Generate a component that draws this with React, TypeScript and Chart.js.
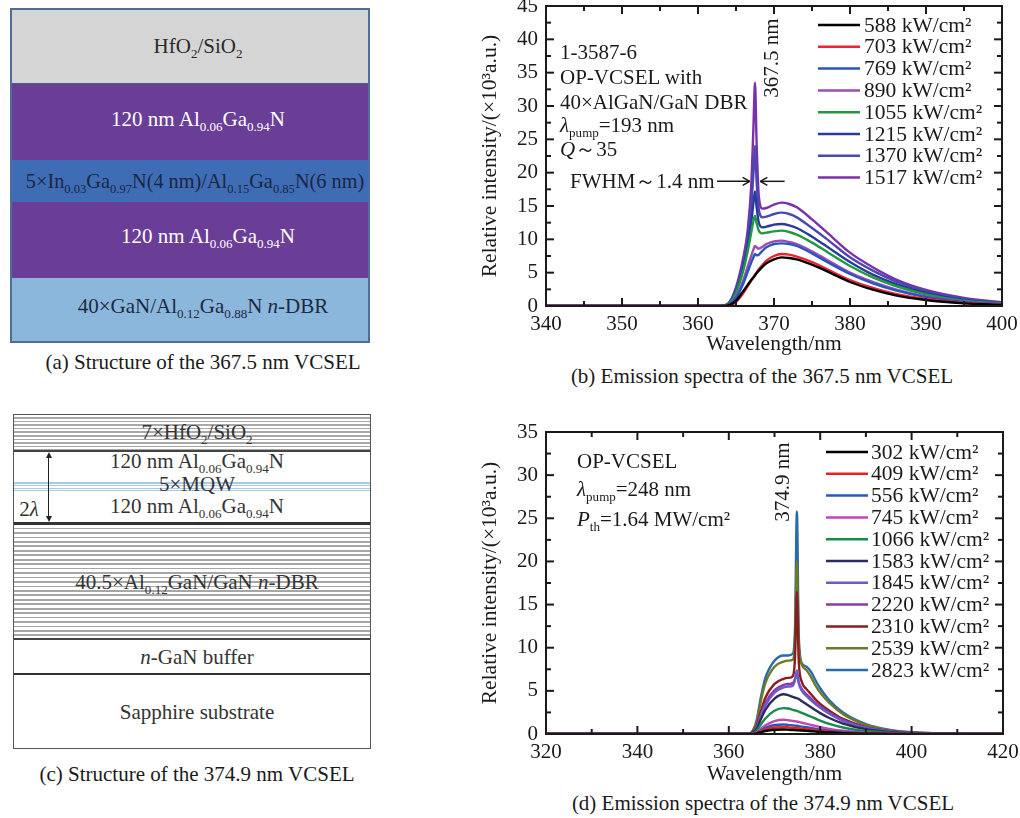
import React, { useEffect, useRef } from "react";
import { Chart, registerables } from "chart.js";
Chart.register(...registerables);

const FONT = '"Liberation Serif", "Times New Roman", serif';

// ---------- Panel (b) data ----------
const wlB = [340, 350, 360, 363, 364, 365, 366, 366.5, 367, 367.3, 367.5, 367.7, 368, 368.5, 369, 370, 371, 372, 373, 375, 377, 380, 383, 386, 390, 395, 400];
const i588 = [0, 0, 0, 0, 0.1, 0.8, 2.3, 3.1, 3.9, 4.3, 4.6, 4.9, 5.3, 5.9, 6.4, 7.0, 7.3, 7.2, 7.0, 6.2, 5.2, 3.6, 2.45, 1.6, 0.9, 0.4, 0.15];
const i703 = [0, 0, 0, 0, 0.05, 0.6, 2.0, 2.9, 3.8, 4.3, 4.7, 5.0, 5.5, 6.2, 6.8, 7.5, 7.8, 7.7, 7.4, 6.6, 5.5, 3.9, 2.7, 1.8, 1.05, 0.45, 0.2];
const i769 = [0, 0, 0, 0, 0.2, 1.2, 3.5, 5.0, 6.5, 7.3, 7.8, 7.6, 7.7, 8.3, 8.8, 9.3, 9.4, 9.3, 9.0, 7.9, 6.6, 4.8, 3.4, 2.35, 1.35, 0.6, 0.28];
const i890 = [0, 0, 0, 0, 0.2, 1.4, 4.0, 5.8, 7.5, 8.5, 9.0, 8.8, 8.6, 8.9, 9.3, 9.7, 9.8, 9.6, 9.3, 8.2, 6.9, 5.0, 3.6, 2.5, 1.45, 0.65, 0.3];
const i1055 = [0, 0, 0, 0, 0.3, 2.0, 5.5, 8.0, 11.0, 12.8, 13.5, 12.5, 11.3, 10.9, 11.0, 11.2, 11.3, 11.1, 10.7, 9.5, 8.1, 6.0, 4.3, 3.0, 1.75, 0.8, 0.35];
const i1215 = [0, 0, 0, 0, 0.3, 2.2, 6.0, 8.8, 12.5, 15.5, 17.2, 15.0, 12.5, 11.8, 11.9, 12.2, 12.3, 12.1, 11.7, 10.4, 8.9, 6.6, 4.7, 3.3, 1.95, 0.9, 0.4];
const i1370 = [0, 0, 0, 0, 0.4, 2.5, 6.8, 10.0, 15.0, 20.0, 24.0, 19.0, 14.5, 13.3, 13.4, 13.8, 14.0, 13.8, 13.3, 11.7, 10.0, 7.3, 5.3, 3.7, 2.2, 1.05, 0.5];
const i1517 = [0, 0, 0, 0, 0.4, 2.8, 7.5, 11.0, 18.0, 27.0, 33.5, 25.0, 16.5, 14.6, 14.7, 15.2, 15.5, 15.3, 14.8, 13.0, 11.0, 8.0, 5.8, 4.0, 2.4, 1.2, 0.55];
const labelsB = ["588 kW/cm²", "703 kW/cm²", "769 kW/cm²", "890 kW/cm²", "1055 kW/cm²", "1215 kW/cm²", "1370 kW/cm²", "1517 kW/cm²"];
const colorsB = ["#000000", "#ee2230", "#2a55bd", "#9c4cb4", "#1f9a40", "#283a9c", "#4b48b4", "#7b2fab"];
const seriesB = [i588, i703, i769, i890, i1055, i1215, i1370, i1517];

// ---------- Panel (d) data ----------
const wlD = [320, 340, 360, 364, 365, 366, 367, 368, 370, 372, 373, 374, 374.5, 374.9, 375.3, 376, 377, 378, 379, 380, 382, 385, 390, 395, 400, 410, 420];
const j302 = [0, 0, 0, 0, 0, 0.05, 0.2, 0.35, 0.5, 0.52, 0.5, 0.47, 0.45, 0.44, 0.43, 0.4, 0.36, 0.32, 0.28, 0.24, 0.17, 0.1, 0.04, 0.02, 0.01, 0, 0];
const j409 = [0, 0, 0, 0, 0, 0.08, 0.3, 0.5, 0.75, 0.8, 0.77, 0.72, 0.7, 0.68, 0.66, 0.62, 0.56, 0.49, 0.43, 0.37, 0.27, 0.16, 0.07, 0.03, 0.01, 0, 0];
const j556 = [0, 0, 0, 0, 0, 0.1, 0.4, 0.7, 1.05, 1.1, 1.06, 1.0, 0.97, 0.95, 0.92, 0.86, 0.78, 0.69, 0.6, 0.52, 0.38, 0.23, 0.1, 0.04, 0.02, 0, 0];
const j745 = [0, 0, 0, 0, 0.02, 0.15, 0.6, 1.0, 1.5, 1.65, 1.6, 1.52, 1.48, 1.45, 1.4, 1.3, 1.18, 1.05, 0.93, 0.8, 0.6, 0.37, 0.16, 0.07, 0.03, 0, 0];
const j1066 = [0, 0, 0, 0, 0.05, 0.3, 1.1, 1.8, 2.7, 3.0, 2.95, 2.8, 2.72, 2.68, 2.6, 2.45, 2.22, 2.0, 1.78, 1.56, 1.18, 0.75, 0.34, 0.15, 0.06, 0.01, 0];
const j1583 = [0, 0, 0, 0, 0.1, 0.5, 1.7, 2.8, 4.1, 4.6, 4.5, 4.3, 4.2, 4.15, 4.05, 3.8, 3.45, 3.1, 2.75, 2.42, 1.85, 1.2, 0.55, 0.24, 0.1, 0.02, 0];
const j1845 = [0, 0, 0, 0, 0.1, 0.6, 2.0, 3.3, 4.8, 5.4, 5.5, 5.6, 6.3, 7.4, 5.9, 5.0, 4.4, 3.9, 3.45, 3.05, 2.35, 1.5, 0.7, 0.3, 0.12, 0.02, 0];
const j2220 = [0, 0, 0, 0, 0.12, 0.65, 2.2, 3.6, 5.1, 5.7, 5.8, 5.9, 6.4, 7.0, 6.0, 5.2, 4.6, 4.1, 3.6, 3.2, 2.45, 1.6, 0.75, 0.32, 0.13, 0.02, 0];
const j2310 = [0, 0, 0, 0, 0.15, 0.8, 2.6, 4.2, 5.8, 6.4, 6.5, 6.7, 9.0, 16.5, 8.5, 6.0, 5.2, 4.6, 4.0, 3.5, 2.7, 1.75, 0.8, 0.35, 0.14, 0.02, 0];
const j2539 = [0, 0, 0, 0, 0.2, 1.2, 3.8, 5.9, 7.8, 8.4, 8.5, 8.6, 11.0, 20.0, 10.5, 8.0, 7.4, 6.6, 5.6, 4.8, 3.6, 2.3, 1.05, 0.45, 0.18, 0.03, 0];
const j2823 = [0, 0, 0, 0, 0.2, 1.4, 4.2, 6.5, 8.5, 9.1, 9.1, 9.3, 12.5, 25.8, 11.5, 8.2, 7.8, 7.2, 6.2, 5.3, 3.9, 2.5, 1.15, 0.5, 0.2, 0.03, 0];
const labelsD = ["302 kW/cm²", "409 kW/cm²", "556 kW/cm²", "745 kW/cm²", "1066 kW/cm²", "1583 kW/cm²", "1845 kW/cm²", "2220 kW/cm²", "2310 kW/cm²", "2539 kW/cm²", "2823 kW/cm²"];
const colorsD = ["#000000", "#e42222", "#2a58ba", "#c246b6", "#178a4c", "#2b2b62", "#6a5acb", "#8b3aab", "#8c1c1c", "#6c7a2a", "#2a6aa8"];
const seriesD = [j302, j409, j556, j745, j1066, j1583, j1845, j2220, j2310, j2539, j2823];

const AXIS_TITLE = "Relative intensity/(×10³a.u.)";

const framePlugin = {
  id: "frameTicks",
  afterDraw(chart: any, _a: any, opts: any) {
    const { ctx, chartArea: a } = chart;
    const x = chart.scales.x;
    const y = chart.scales.y;
    ctx.save();
    ctx.strokeStyle = "#1a1a1a";
    ctx.lineWidth = 2;
    ctx.strokeRect(a.left, a.top, a.right - a.left, a.bottom - a.top);
    const seg = (x1: number, y1: number, x2: number, y2: number) => {
      ctx.beginPath();
      ctx.moveTo(x1, y1);
      ctx.lineTo(x2, y2);
      ctx.stroke();
    };
    const isMajor = (v: number, min: number, step: number) => {
      const r = (v - min) / step;
      return Math.abs(r - Math.round(r)) < 1e-6;
    };
    for (let v = x.min; v <= x.max + 1e-9; v += opts.xMinor) {
      const px = x.getPixelForValue(v);
      const len = isMajor(v, x.min, opts.xMajor) ? 8 : 5;
      seg(px, a.bottom, px, a.bottom - len);
      seg(px, a.top, px, a.top + len);
    }
    for (let v = y.min; v <= y.max + 1e-9; v += opts.yMinor) {
      const py = y.getPixelForValue(v);
      const len = isMajor(v, y.min, opts.yMajor) ? 8 : 5;
      seg(a.left, py, a.left + len, py);
      seg(a.right, py, a.right - len, py);
    }
    if (opts.arrows) {
      for (const ar of opts.arrows) {
        const x1 = x.getPixelForValue(ar.from);
        const x2 = x.getPixelForValue(ar.to);
        const py = y.getPixelForValue(ar.y);
        ctx.lineWidth = 1.5;
        seg(x1, py, x2, py);
        const d = x2 > x1 ? -1 : 1;
        seg(x2, py, x2 + d * 7, py - 4);
        seg(x2, py, x2 + d * 7, py + 4);
      }
    }
    ctx.restore();
  },
};

const legendPlugin = {
  id: "inlineLegend",
  afterDraw(chart: any, _a: any, opts: any) {
    const { ctx } = chart;
    ctx.save();
    ctx.font = `21.5px ${FONT}`;
    ctx.textBaseline = "middle";
    chart.data.datasets.forEach((ds: any, i: number) => {
      const yy = opts.y0 + i * opts.dy;
      ctx.strokeStyle = ds.borderColor;
      ctx.lineWidth = 2.5;
      ctx.beginPath();
      ctx.moveTo(opts.x, yy);
      ctx.lineTo(opts.x + opts.len, yy);
      ctx.stroke();
      ctx.fillStyle = "#1a1a1a";
      ctx.fillText(ds.label, opts.x + opts.len + opts.gap, yy + 1);
    });
    ctx.restore();
  },
};

function makeChart(canvas: HTMLCanvasElement, cfg: any) {
  const datasets = cfg.series.map((vals: number[], i: number) => ({
    label: cfg.labels[i],
    data: cfg.wl.map((w: number, k: number) => ({ x: w, y: vals[k] })),
    borderColor: cfg.colors[i],
    backgroundColor: cfg.colors[i],
    borderWidth: 2.4,
    pointRadius: 0,
    tension: 0.4,
    cubicInterpolationMode: "monotone",
    fill: false,
  }));
  return new Chart(canvas, {
    type: "line",
    data: { datasets },
    plugins: [framePlugin, legendPlugin],
    options: {
      animation: false,
      responsive: false,
      maintainAspectRatio: false,
      devicePixelRatio: 1,
      layout: { padding: { left: 0, top: cfg.padTop, right: cfg.padRight, bottom: 0 } },
      plugins: {
        legend: { display: false },
        tooltip: { enabled: false },
        frameTicks: cfg.ticks,
        inlineLegend: cfg.legend,
      },
      scales: {
        x: {
          type: "linear",
          min: cfg.xMin,
          max: cfg.xMax,
          grid: { display: false, drawTicks: false },
          border: { display: false },
          ticks: { stepSize: cfg.xStep, padding: cfg.xTickPad, color: "#1a1a1a", font: { family: FONT, size: 21 }, maxRotation: 0 },
          title: { display: true, text: "Wavelength/nm", color: "#1a1a1a", font: { family: FONT, size: 21.5 }, padding: { top: 0, bottom: cfg.xTitlePad } },
          afterFit(s: any) {
            s.height = cfg.xHeight;
            s.paddingLeft = 0;
            s.paddingRight = 0;
          },
        },
        y: {
          min: 0,
          max: cfg.yMax,
          grid: { display: false, drawTicks: false },
          border: { display: false },
          ticks: { stepSize: 5, padding: cfg.yTickPad, color: "#1a1a1a", font: { family: FONT, size: 21 } },
          title: { display: true, text: AXIS_TITLE, color: "#1a1a1a", font: { family: FONT, size: 21.5 }, padding: { top: cfg.yTitlePad, bottom: 0 } },
          afterFit(s: any) {
            s.width = cfg.yWidth;
            s.paddingTop = 0;
            s.paddingBottom = 0;
          },
        },
      },
    },
  });
}

const Sub = ({ children }: any) => (
  <span style={{ fontSize: "0.62em", position: "relative", top: "0.38em", lineHeight: 0 }}>{children}</span>
);

const T = ({ x, y, children, align = "center", color = "#1a1a1a", size = 21, rotate = 0 }: any) => {
  const tx = align === "center" ? "-50%" : align === "right" ? "-100%" : "0";
  return (
    <div
      style={{
        position: "absolute",
        left: x,
        top: y,
        transform: `translate(${tx}, -50%)` + (rotate ? ` rotate(${rotate}deg)` : ""),
        whiteSpace: "nowrap",
        lineHeight: 1,
        fontSize: size,
        color,
        fontFamily: FONT,
      }}
    >
      {children}
    </div>
  );
};

const Layer = ({ top, height, bg, border }: any) => (
  <div style={{ position: "absolute", left: 0, right: 0, top, height, background: bg, borderBottom: border }} />
);

function PanelA() {
  return (
    <div style={{ position: "absolute", left: 10, top: 8, width: 360, height: 335, border: "2px solid #4d6e98", boxSizing: "border-box", overflow: "hidden" }}>
      <Layer top={0} height={73} bg="#d5d5d6" border="1px solid #4a5e86" />
      <Layer top={74} height={76} bg="#6a3d97" border="1px solid #3d3e86" />
      <Layer top={150} height={42} bg="#3f6db5" border="1px solid #3c4f8f" />
      <Layer top={192} height={76} bg="#6a3d97" border="1px solid #3d4e8c" />
      <Layer top={268} height={70} bg="#8cb7dd" />
    </div>
  );
}

function PanelC() {
  const dbrTop = "repeating-linear-gradient(to bottom, #ffffff 0px, #ffffff 2px, #a8a8a8 2px, #a8a8a8 3.6px)";
  const dbrBot = "repeating-linear-gradient(to bottom, #ffffff 0px, #ffffff 2.7px, #a6a6a6 2.7px, #a6a6a6 4.45px)";
  const mqw = "repeating-linear-gradient(to bottom, #ffffff 0px, #ffffff 1.4px, #a9cbe3 1.4px, #a9cbe3 2.6px)";
  return (
    <div style={{ position: "absolute", left: 13, top: 414, width: 358, height: 335, border: "1.5px solid #555", boxSizing: "border-box", overflow: "hidden", background: "#fff" }}>
      <div style={{ position: "absolute", left: 0, right: 0, top: 0, height: 35, background: dbrTop }} />
      <div style={{ position: "absolute", left: 0, right: 0, top: 35, height: 1.5, background: "#444" }} />
      <div style={{ position: "absolute", left: 0, right: 0, top: 66, height: 10, background: mqw }} />
      <div style={{ position: "absolute", left: 0, right: 0, top: 107, height: 2.5, background: "#333" }} />
      <div style={{ position: "absolute", left: 0, right: 0, top: 110, height: 113, background: dbrBot }} />
      <div style={{ position: "absolute", left: 0, right: 0, top: 223, height: 1.5, background: "#444" }} />
      <div style={{ position: "absolute", left: 0, right: 0, top: 258, height: 2, background: "#333" }} />
      <div style={{ position: "absolute", left: 34, top: 40, width: 1.2, height: 64, background: "#222" }} />
      <div style={{ position: "absolute", left: 31.5, top: 37, width: 0, height: 0, borderLeft: "3px solid transparent", borderRight: "3px solid transparent", borderBottom: "6px solid #222" }} />
      <div style={{ position: "absolute", left: 31.5, top: 101, width: 0, height: 0, borderLeft: "3px solid transparent", borderRight: "3px solid transparent", borderTop: "6px solid #222" }} />
    </div>
  );
}

const Al = () => (
  <>
    120 nm Al<Sub>0.06</Sub>Ga<Sub>0.94</Sub>N
  </>
);

function SpectrumCanvas({ left, top, width, height, cfg }: any) {
  const ref = useRef<HTMLCanvasElement | null>(null);
  useEffect(() => {
    if (!ref.current) return;
    const ch = makeChart(ref.current, cfg);
    return () => ch.destroy();
  }, []);
  return <canvas ref={ref} width={width} height={height} style={{ position: "absolute", left, top, width, height }} />;
}

const cfgB = {
  wl: wlB,
  series: seriesB,
  labels: labelsB,
  colors: colorsB,
  xMin: 340,
  xMax: 400,
  xStep: 10,
  yMax: 45,
  padTop: 6,
  padRight: 18,
  xHeight: 54,
  yWidth: 106,
  xTickPad: 6,
  yTickPad: 8,
  xTitlePad: 3,
  yTitlePad: 37,
  ticks: { xMajor: 10, xMinor: 5, yMajor: 5, yMinor: 2.5, arrows: [{ from: 362.5, to: 366.8, y: 18.7 }, { from: 371.4, to: 368.2, y: 18.7 }] },
  legend: { x: 378, y0: 25, dy: 21.8, len: 42, gap: 4 },
};

const cfgD = {
  wl: wlD,
  series: seriesD,
  labels: labelsD,
  colors: colorsD,
  xMin: 320,
  xMax: 420,
  xStep: 20,
  yMax: 35,
  padTop: 12,
  padRight: 17,
  xHeight: 56,
  yWidth: 106,
  xTickPad: 6,
  yTickPad: 8,
  xTitlePad: 3,
  yTitlePad: 37,
  ticks: { xMajor: 20, xMinor: 10, yMajor: 5, yMinor: 2.5 },
  legend: { x: 386, y0: 32, dy: 21.8, len: 42, gap: 3 },
};

export default function App() {
  return (
    <div style={{ position: "absolute", left: 0, top: 0, width: 1020, height: 818, background: "#fff", overflow: "hidden", fontFamily: FONT }}>
      <PanelA />
      <T x={198} y={46} color="#2a2a2a">
        HfO<Sub>2</Sub>/SiO<Sub>2</Sub>
      </T>
      <T x={198} y={119} color="#ffffff">
        <Al />
      </T>
      <T x={195} y={181} color="#1c2640" size={20.3}>
        5×In<Sub>0.03</Sub>Ga<Sub>0.97</Sub>N(4 nm)/Al<Sub>0.15</Sub>Ga<Sub>0.85</Sub>N(6 nm)
      </T>
      <T x={208} y={236} color="#ffffff">
        <Al />
      </T>
      <T x={203} y={306} color="#1c2a40">
        40×GaN/Al<Sub>0.12</Sub>Ga<Sub>0.88</Sub>N <i>n</i>-DBR
      </T>
      <T x={203} y={362}>(a) Structure of the 367.5 nm VCSEL</T>

      <PanelC />
      <T x={197} y={432} color="#333">
        7×HfO<Sub>2</Sub>/SiO<Sub>2</Sub>
      </T>
      <T x={197} y={461} color="#333">
        <Al />
      </T>
      <T x={197} y={484} color="#333">5×MQW</T>
      <T x={197} y={506} color="#333">
        <Al />
      </T>
      <T x={29} y={509} color="#333">
        2<i>λ</i>
      </T>
      <T x={197} y={582} color="#333">
        40.5×Al<Sub>0.12</Sub>GaN/GaN <i>n</i>-DBR
      </T>
      <T x={197} y={657} color="#333">
        <i>n</i>-GaN buffer
      </T>
      <T x={197} y={712} color="#333">Sapphire substrate</T>
      <T x={197} y={774}>(c) Structure of the 374.9 nm VCSEL</T>

      <SpectrumCanvas left={440} top={0} width={580} height={360} cfg={cfgB} />
      <T x={560} y={52} align="left">1-3587-6</T>
      <T x={560} y={77} align="left">OP-VCSEL with</T>
      <T x={560} y={102} align="left">40×AlGaN/GaN DBR</T>
      <T x={560} y={125} align="left">
        <i>λ</i>
        <Sub>pump</Sub>=193 nm
      </T>
      <T x={560} y={149} align="left">
        <i>Q</i>～35
      </T>
      <T x={570} y={181} align="left">FWHM～1.4 nm</T>
      <T x={771} y={58} rotate={-90}>367.5 nm</T>
      <T x={762} y={376}>(b) Emission spectra of the 367.5 nm VCSEL</T>

      <SpectrumCanvas left={440} top={420} width={580} height={370} cfg={cfgD} />
      <T x={577} y={461} align="left">OP-VCSEL</T>
      <T x={577} y={489} align="left">
        <i>λ</i>
        <Sub>pump</Sub>=248 nm
      </T>
      <T x={577} y={519} align="left">
        <i>P</i>
        <Sub>th</Sub>=1.64 MW/cm²
      </T>
      <T x={782} y={482} rotate={-90}>374.9 nm</T>
      <T x={763} y={803}>(d) Emission spectra of the 374.9 nm VCSEL</T>
    </div>
  );
}
